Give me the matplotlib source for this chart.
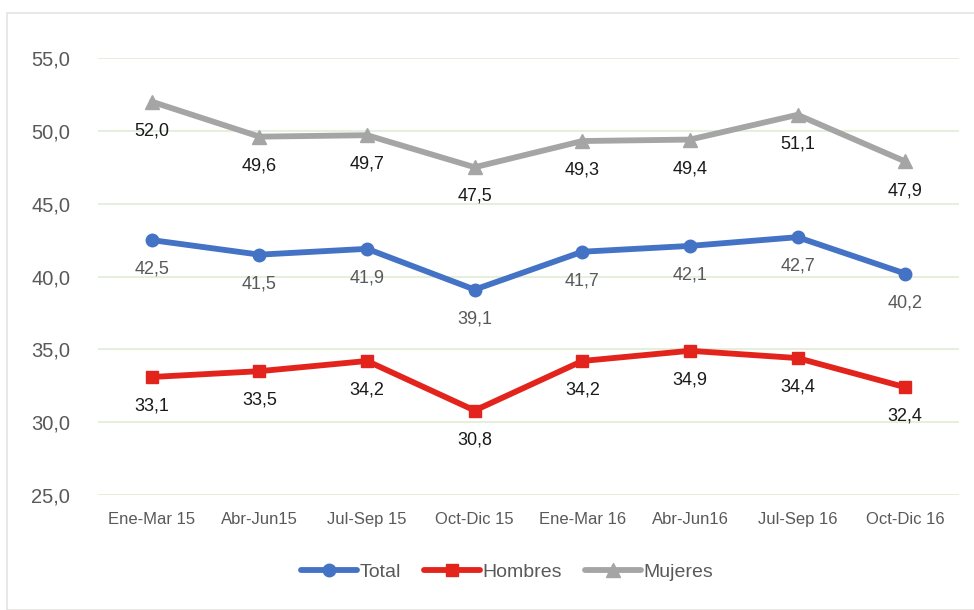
import matplotlib
matplotlib.use("Agg")
import matplotlib.pyplot as plt
from matplotlib import font_manager
from matplotlib.patches import Rectangle

categories = ["Ene-Mar 15", "Abr-Jun15", "Jul-Sep 15", "Oct-Dic 15",
              "Ene-Mar 16", "Abr-Jun16", "Jul-Sep 16", "Oct-Dic 16"]
total = [42.5, 41.5, 41.9, 39.1, 41.7, 42.1, 42.7, 40.2]
hombres = [33.1, 33.5, 34.2, 30.8, 34.2, 34.9, 34.4, 32.4]
mujeres = [52.0, 49.6, 49.7, 47.5, 49.3, 49.4, 51.1, 47.9]
yticks = [25, 30, 35, 40, 45, 50, 55]

names = {f.name for f in font_manager.fontManager.ttflist}
fam = "Liberation Sans Narrow" if "Liberation Sans Narrow" in names else "Liberation Sans"
plt.rcParams["font.family"] = [fam, "DejaVu Sans"]

fig = plt.figure(figsize=(9.74, 6.1), dpi=100)
fig.patches.append(Rectangle((7/974, 0), 1, 1 - 13/610, transform=fig.transFigure,
                             fill=False, edgecolor="#e6e3df", linewidth=1.2))
ax = fig.add_axes([98/974, 1 - 495/610, (959 - 98)/974, (495 - 58)/610])

x = list(range(len(categories)))
series = [
    ("Total", total, "#4472C4", "o", 9, "#595959"),
    ("Hombres", hombres, "#E3241C", "s", 8.5, "#1a1a1a"),
    ("Mujeres", mujeres, "#A5A5A5", "^", 10, "#1a1a1a"),
]
for name, vals, col, mk, ms, lc in series:
    ax.plot(x, vals, color=col, linewidth=4.2, marker=mk, markersize=ms,
            label=name, solid_capstyle="round", zorder=3)
    for xi, v in zip(x, vals):
        ax.annotate(f"{v:.1f}".replace(".", ","), (xi, v), xytext=(0, -21),
                    textcoords="offset points", ha="center", va="center",
                    fontsize=13, color=lc)

ax.set_xlim(-0.5, len(categories) - 0.5)
ax.set_ylim(25, 55)
ax.set_yticks(yticks)
ax.set_yticklabels([f"{t:.1f}".replace(".", ",") for t in yticks])
ax.set_xticks(x)
ax.set_xticklabels(categories)
ax.grid(axis="y", color="#e2efd9", linewidth=1.3)
ax.set_axisbelow(True)
for s in ax.spines.values():
    s.set_visible(False)
ax.tick_params(axis="y", length=0, pad=20, labelsize=14.5, labelcolor="#595959")
ax.tick_params(axis="x", length=0, pad=12, labelsize=12, labelcolor="#595959")

leg = fig.legend(loc="center", bbox_to_anchor=(507/974, 1 - 572/610), ncol=3,
                 frameon=False, fontsize=14, handlelength=2.9, columnspacing=1.2,
                 handletextpad=0.1)
for t in leg.get_texts():
    t.set_color("#595959")

fig.savefig("out.png", dpi=100)
